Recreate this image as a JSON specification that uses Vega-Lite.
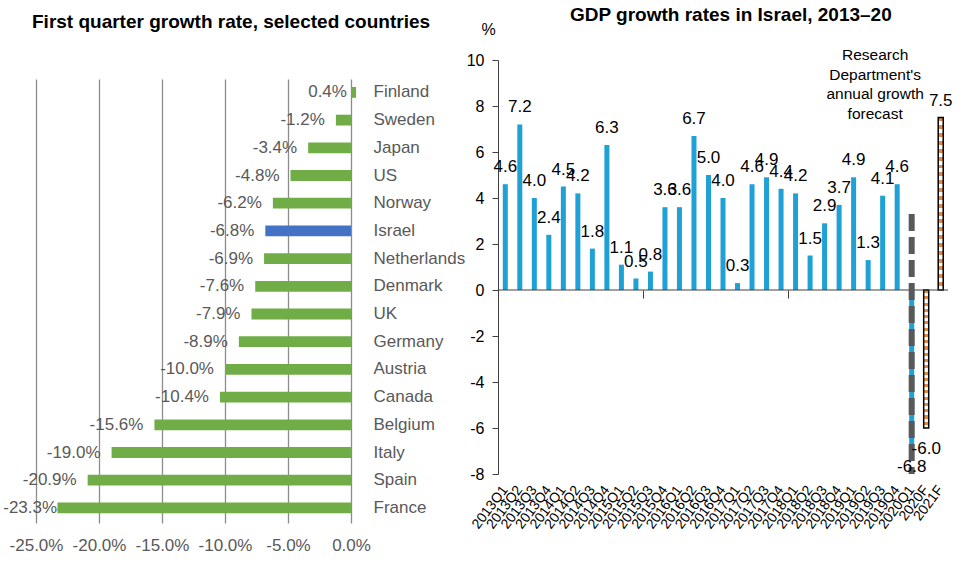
{
  "$schema": "https://vega.github.io/schema/vega-lite/v6.json",
  "padding": {"left": 3, "top": 6, "right": 5, "bottom": 5},
  "config": {
    "view": {"stroke": null},
    "font": "Liberation Sans",
    "locale": {"number": {"decimal": ".", "thousands": ",", "grouping": [3], "currency": ["$", ""], "minus": "-"}},
    "title": {"fontSize": 19, "fontWeight": "bold", "color": "#000000", "anchor": "start", "frame": "group"}
  },
  "datasets": {
    "countries": [
      {"country": "Finland", "growth": 0.004},
      {"country": "Sweden", "growth": -0.012},
      {"country": "Japan", "growth": -0.034},
      {"country": "US", "growth": -0.048},
      {"country": "Norway", "growth": -0.062},
      {"country": "Israel", "growth": -0.068},
      {"country": "Netherlands", "growth": -0.069},
      {"country": "Denmark", "growth": -0.076},
      {"country": "UK", "growth": -0.079},
      {"country": "Germany", "growth": -0.089},
      {"country": "Austria", "growth": -0.100},
      {"country": "Canada", "growth": -0.104},
      {"country": "Belgium", "growth": -0.156},
      {"country": "Italy", "growth": -0.190},
      {"country": "Spain", "growth": -0.209},
      {"country": "France", "growth": -0.233}
    ],
    "israel": [
      {"quarter": "2013Q1", "growth": 4.6, "kind": "actual"},
      {"quarter": "2013Q2", "growth": 7.2, "kind": "actual"},
      {"quarter": "2013Q3", "growth": 4.0, "kind": "actual"},
      {"quarter": "2013Q4", "growth": 2.4, "kind": "actual"},
      {"quarter": "2014Q1", "growth": 4.5, "kind": "actual"},
      {"quarter": "2014Q2", "growth": 4.2, "kind": "actual"},
      {"quarter": "2014Q3", "growth": 1.8, "kind": "actual"},
      {"quarter": "2014Q4", "growth": 6.3, "kind": "actual"},
      {"quarter": "2015Q1", "growth": 1.1, "kind": "actual"},
      {"quarter": "2015Q2", "growth": 0.5, "kind": "actual"},
      {"quarter": "2015Q3", "growth": 0.8, "kind": "actual"},
      {"quarter": "2015Q4", "growth": 3.6, "kind": "actual"},
      {"quarter": "2016Q1", "growth": 3.6, "kind": "actual"},
      {"quarter": "2016Q2", "growth": 6.7, "kind": "actual"},
      {"quarter": "2016Q3", "growth": 5.0, "kind": "actual"},
      {"quarter": "2016Q4", "growth": 4.0, "kind": "actual"},
      {"quarter": "2017Q1", "growth": 0.3, "kind": "actual"},
      {"quarter": "2017Q2", "growth": 4.6, "kind": "actual"},
      {"quarter": "2017Q3", "growth": 4.9, "kind": "actual"},
      {"quarter": "2017Q4", "growth": 4.4, "kind": "actual"},
      {"quarter": "2018Q1", "growth": 4.2, "kind": "actual"},
      {"quarter": "2018Q2", "growth": 1.5, "kind": "actual"},
      {"quarter": "2018Q3", "growth": 2.9, "kind": "actual"},
      {"quarter": "2018Q4", "growth": 3.7, "kind": "actual"},
      {"quarter": "2019Q1", "growth": 4.9, "kind": "actual"},
      {"quarter": "2019Q2", "growth": 1.3, "kind": "actual"},
      {"quarter": "2019Q3", "growth": 4.1, "kind": "actual"},
      {"quarter": "2019Q4", "growth": 4.6, "kind": "actual"},
      {"quarter": "2020Q1", "growth": -6.8, "kind": "actual"},
      {"quarter": "2020F", "growth": -6.0, "kind": "forecast"},
      {"quarter": "2021F", "growth": 7.5, "kind": "forecast"}
    ]
  },
  "spacing": 1,
  "hconcat": [
    {
      "width": 315,
      "height": 463,
      "title": {"text": "First quarter growth rate, selected countries", "dx": -4, "offset": 28.5},
      "data": {"name": "countries"},
      "layer": [
        {
          "mark": {"type": "bar", "orient": "horizontal"},
          "encoding": {
            "y": {"field": "country", "type": "nominal", "sort": null,
              "scale": {"paddingInner": 0.61, "paddingOuter": 0.6625, "align": 0.736},
              "axis": {"orient": "right", "title": null, "domain": false, "ticks": false, "labelPadding": 22, "labelFontSize": 17, "labelColor": "#595959", "labelAlign": "left"}},
            "x": {"field": "growth", "type": "quantitative",
              "scale": {"domain": [-0.25, 0], "nice": false},
              "axis": {"values": [-0.25, -0.2, -0.15, -0.1, -0.05, 0], "format": ".1%", "title": null, "domain": false, "ticks": true, "tickSize": -444, "tickColor": "#8C8C8C", "tickWidth": 1.3, "grid": false, "labelFontSize": 17, "labelColor": "#595959", "labelPadding": 458, "labelFlush": false, "labelOverlap": false}},
            "color": {"condition": {"test": "datum.country === 'Israel'", "value": "#4472C4"}, "value": "#70AD47"}
          }
        },
        {
          "transform": [{"calculate": "datum.growth > 0 ? 0.0055 : max(datum.growth, -0.2245)", "as": "labelAt"}],
          "mark": {"type": "text", "align": "right", "baseline": "middle", "dx": -11, "fontSize": 17, "color": "#595959"},
          "encoding": {
            "y": {"field": "country", "type": "nominal", "sort": null},
            "x": {"field": "labelAt", "type": "quantitative"},
            "text": {"field": "growth", "type": "quantitative", "format": ".1%"}
          }
        }
      ]
    },
    {
      "width": 450,
      "height": 414,
      "title": {"text": "GDP growth rates in Israel, 2013–20", "dx": 72, "offset": -4},
      "data": {"name": "israel"},
      "resolve": {"axis": {"x": "independent"}},
      "layer": [
        {
          "transform": [{"filter": "datum.kind === 'actual'"}],
          "mark": {"type": "bar", "color": "#1FA1D5"},
          "encoding": {
            "x": {"field": "quarter", "type": "nominal", "sort": null,
              "scale": {"domain": ["2013Q1","2013Q2","2013Q3","2013Q4","2014Q1","2014Q2","2014Q3","2014Q4","2015Q1","2015Q2","2015Q3","2015Q4","2016Q1","2016Q2","2016Q3","2016Q4","2017Q1","2017Q2","2017Q3","2017Q4","2018Q1","2018Q2","2018Q3","2018Q4","2019Q1","2019Q2","2019Q3","2019Q4","2020Q1","2020F","2021F"], "paddingInner": 0.655, "paddingOuter": 0.33},
              "axis": {"title": null, "labelAngle": -53, "labelFontSize": 14, "labelColor": "#000000", "domain": false, "ticks": false, "labelPadding": 13, "labelOverlap": false}},
            "y": {"field": "growth", "type": "quantitative",
              "scale": {"domain": [-8, 10], "nice": false},
              "axis": {"values": [-8, -6, -4, -2, 0, 2, 4, 6, 8, 10], "grid": false, "domainColor": "#404040", "tickColor": "#404040", "tickSize": 6, "labelPadding": 8, "labelFontSize": 16, "labelColor": "#000000", "title": "%", "titleAngle": 0, "titleFontSize": 16, "titleFontWeight": "normal", "titleColor": "#000000", "titleX": -10, "titleY": -31, "titleAlign": "center", "titleBaseline": "middle"}}
          }
        },
        {
          "transform": [{"filter": "datum.kind === 'forecast'"}],
          "mark": {"type": "bar", "stroke": "#000000", "strokeWidth": 1.5,
            "fill": {"gradient": "linear", "x1": 0, "y1": 0, "x2": 0, "y2": 1, "stops": [
              {"offset": 0, "color": "#E88A3C"}, {"offset": 0.0227, "color": "#E88A3C"}, {"offset": 0.0227, "color": "#FFFFFF"}, {"offset": 0.0455, "color": "#FFFFFF"},
              {"offset": 0.0455, "color": "#E88A3C"}, {"offset": 0.0682, "color": "#E88A3C"}, {"offset": 0.0682, "color": "#FFFFFF"}, {"offset": 0.0909, "color": "#FFFFFF"},
              {"offset": 0.0909, "color": "#E88A3C"}, {"offset": 0.1136, "color": "#E88A3C"}, {"offset": 0.1136, "color": "#FFFFFF"}, {"offset": 0.1364, "color": "#FFFFFF"},
              {"offset": 0.1364, "color": "#E88A3C"}, {"offset": 0.1591, "color": "#E88A3C"}, {"offset": 0.1591, "color": "#FFFFFF"}, {"offset": 0.1818, "color": "#FFFFFF"},
              {"offset": 0.1818, "color": "#E88A3C"}, {"offset": 0.2045, "color": "#E88A3C"}, {"offset": 0.2045, "color": "#FFFFFF"}, {"offset": 0.2273, "color": "#FFFFFF"},
              {"offset": 0.2273, "color": "#E88A3C"}, {"offset": 0.25, "color": "#E88A3C"}, {"offset": 0.25, "color": "#FFFFFF"}, {"offset": 0.2727, "color": "#FFFFFF"},
              {"offset": 0.2727, "color": "#E88A3C"}, {"offset": 0.2955, "color": "#E88A3C"}, {"offset": 0.2955, "color": "#FFFFFF"}, {"offset": 0.3182, "color": "#FFFFFF"},
              {"offset": 0.3182, "color": "#E88A3C"}, {"offset": 0.3409, "color": "#E88A3C"}, {"offset": 0.3409, "color": "#FFFFFF"}, {"offset": 0.3636, "color": "#FFFFFF"},
              {"offset": 0.3636, "color": "#E88A3C"}, {"offset": 0.3864, "color": "#E88A3C"}, {"offset": 0.3864, "color": "#FFFFFF"}, {"offset": 0.4091, "color": "#FFFFFF"},
              {"offset": 0.4091, "color": "#E88A3C"}, {"offset": 0.4318, "color": "#E88A3C"}, {"offset": 0.4318, "color": "#FFFFFF"}, {"offset": 0.4545, "color": "#FFFFFF"},
              {"offset": 0.4545, "color": "#E88A3C"}, {"offset": 0.4773, "color": "#E88A3C"}, {"offset": 0.4773, "color": "#FFFFFF"}, {"offset": 0.5, "color": "#FFFFFF"},
              {"offset": 0.5, "color": "#E88A3C"}, {"offset": 0.5227, "color": "#E88A3C"}, {"offset": 0.5227, "color": "#FFFFFF"}, {"offset": 0.5455, "color": "#FFFFFF"},
              {"offset": 0.5455, "color": "#E88A3C"}, {"offset": 0.5682, "color": "#E88A3C"}, {"offset": 0.5682, "color": "#FFFFFF"}, {"offset": 0.5909, "color": "#FFFFFF"},
              {"offset": 0.5909, "color": "#E88A3C"}, {"offset": 0.6136, "color": "#E88A3C"}, {"offset": 0.6136, "color": "#FFFFFF"}, {"offset": 0.6364, "color": "#FFFFFF"},
              {"offset": 0.6364, "color": "#E88A3C"}, {"offset": 0.6591, "color": "#E88A3C"}, {"offset": 0.6591, "color": "#FFFFFF"}, {"offset": 0.6818, "color": "#FFFFFF"},
              {"offset": 0.6818, "color": "#E88A3C"}, {"offset": 0.7045, "color": "#E88A3C"}, {"offset": 0.7045, "color": "#FFFFFF"}, {"offset": 0.7273, "color": "#FFFFFF"},
              {"offset": 0.7273, "color": "#E88A3C"}, {"offset": 0.75, "color": "#E88A3C"}, {"offset": 0.75, "color": "#FFFFFF"}, {"offset": 0.7727, "color": "#FFFFFF"},
              {"offset": 0.7727, "color": "#E88A3C"}, {"offset": 0.7955, "color": "#E88A3C"}, {"offset": 0.7955, "color": "#FFFFFF"}, {"offset": 0.8182, "color": "#FFFFFF"},
              {"offset": 0.8182, "color": "#E88A3C"}, {"offset": 0.8409, "color": "#E88A3C"}, {"offset": 0.8409, "color": "#FFFFFF"}, {"offset": 0.8636, "color": "#FFFFFF"},
              {"offset": 0.8636, "color": "#E88A3C"}, {"offset": 0.8864, "color": "#E88A3C"}, {"offset": 0.8864, "color": "#FFFFFF"}, {"offset": 0.9091, "color": "#FFFFFF"},
              {"offset": 0.9091, "color": "#E88A3C"}, {"offset": 0.9318, "color": "#E88A3C"}, {"offset": 0.9318, "color": "#FFFFFF"}, {"offset": 0.9545, "color": "#FFFFFF"},
              {"offset": 0.9545, "color": "#E88A3C"}, {"offset": 0.9773, "color": "#E88A3C"}, {"offset": 0.9773, "color": "#FFFFFF"}, {"offset": 1, "color": "#FFFFFF"}
            ]}},
          "encoding": {
            "x": {"field": "quarter", "type": "nominal", "sort": null,
              "axis": {"orient": "top", "values": ["2015Q3", "2018Q1"], "bandPosition": -0.95, "labels": false, "domain": false, "ticks": true, "tickSize": -8, "tickColor": "#404040", "offset": -230, "title": null, "grid": false}},
            "y": {"field": "growth", "type": "quantitative"}
          }
        },
        {
          "data": {"values": [{}]},
          "mark": {"type": "rule", "color": "#404040", "strokeWidth": 1},
          "encoding": {"y": {"datum": 0}}
        },
        {
          "data": {"values": [{}]},
          "mark": {"type": "rule", "color": "#595959", "strokeWidth": 6, "strokeDash": [17, 6]},
          "encoding": {
            "x": {"datum": "2020Q1", "axis": null},
            "y": {"datum": 3.3},
            "y2": {"datum": -8}
          }
        },
        {
          "transform": [{"filter": "datum.growth >= 0"}],
          "mark": {"type": "text", "baseline": "alphabetic", "dy": -12, "fontSize": 17, "color": "#000000"},
          "encoding": {
            "x": {"field": "quarter", "type": "nominal", "sort": null, "axis": null},
            "y": {"field": "growth", "type": "quantitative"},
            "text": {"field": "growth", "type": "quantitative", "format": ".1f"}
          }
        },
        {
          "transform": [{"filter": "datum.growth < 0"}],
          "mark": {"type": "text", "baseline": "alphabetic", "dy": 26, "fontSize": 17, "color": "#000000"},
          "encoding": {
            "x": {"field": "quarter", "type": "nominal", "sort": null, "axis": null},
            "y": {"field": "growth", "type": "quantitative"},
            "text": {"field": "growth", "type": "quantitative", "format": ".1f"}
          }
        },
        {
          "data": {"values": [{}]},
          "mark": {"type": "text", "text": ["Research", "Department's", "annual growth", "forecast"], "fontSize": 15.5, "lineHeight": 19.5, "align": "center", "baseline": "alphabetic", "dx": 7, "color": "#000000"},
          "encoding": {
            "x": {"datum": "2019Q2", "axis": null},
            "y": {"datum": 10}
          }
        }
      ]
    }
  ]
}
